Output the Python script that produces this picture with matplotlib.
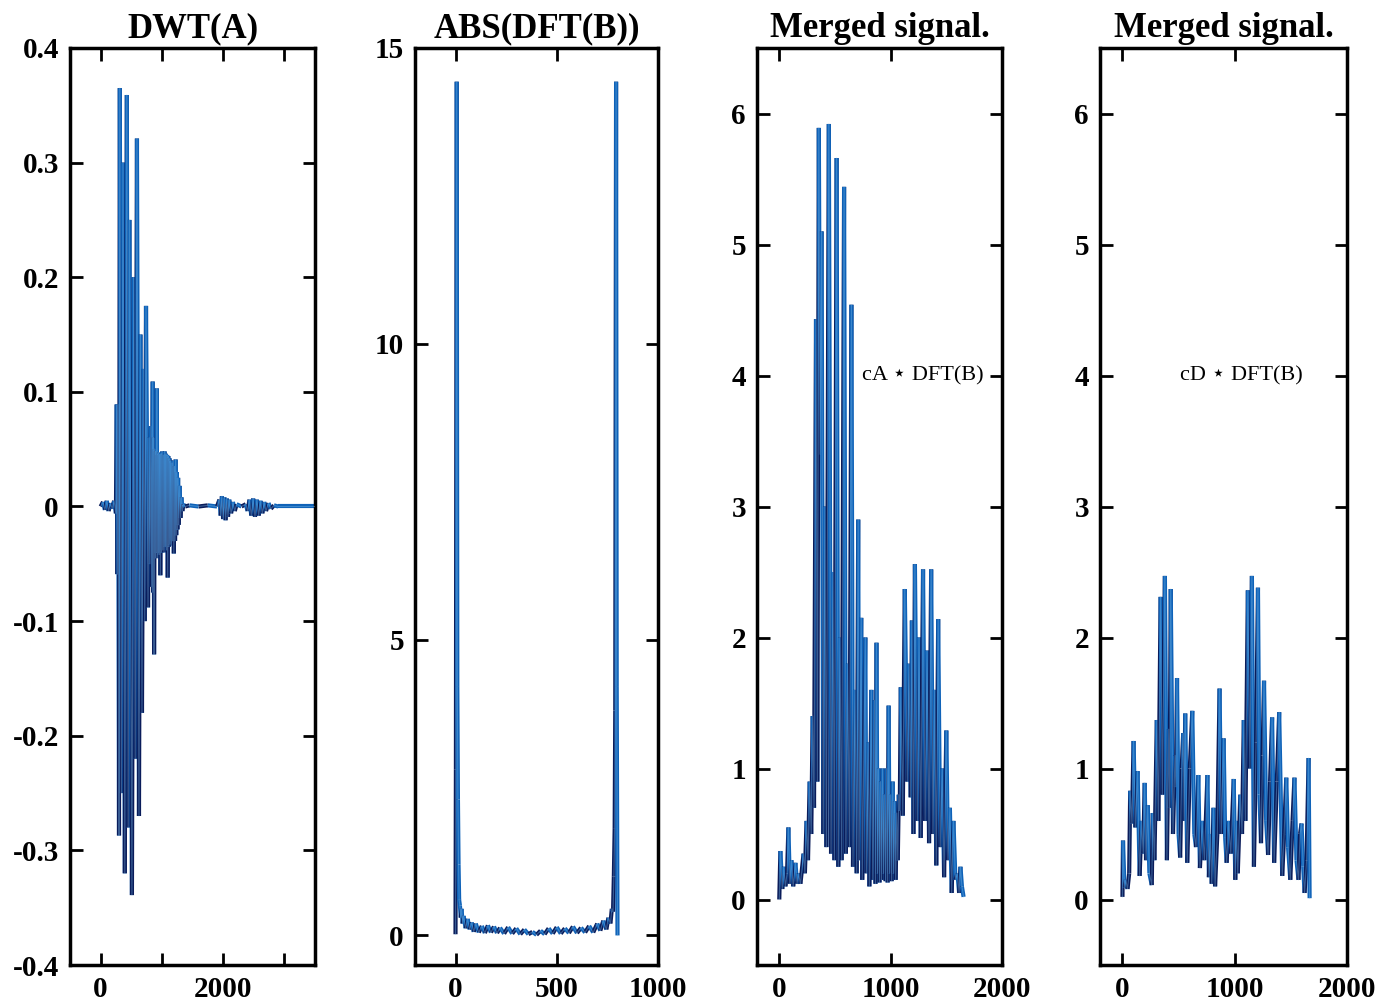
import numpy as np
import matplotlib
matplotlib.use("Agg")
import matplotlib.pyplot as plt
from matplotlib.collections import LineCollection
from matplotlib.ticker import FixedLocator, FixedFormatter

plt.rcParams['font.family'] = ['Liberation Serif', 'DejaVu Sans']
plt.rcParams['font.weight'] = 'bold'

# ---------------- data ----------------
titles = ["DWT(A)", "ABS(DFT(B))", "Merged signal.", "Merged signal."]
labels = ["", "", "cA \u22c6 DFT(B)", "cD \u22c6 DFT(B)"]

dwt_a = [(0, 0), (40, 0.004), (70, -0.003), (100, 0.005), (130, -0.004), (160, 0.003),
         (190, -0.002), (220, 0.005), (250, -0.006), (262, 0.089), (272, -0.059), (282, 0.089),
         (292, -0.059), (300, -0.287), (313, 0.365), (340, -0.25), (365, 0.30), (395, -0.320),
         (428, 0.359), (450, -0.28), (470, 0.25), (511, -0.339), (540, 0.20), (565, -0.22),
         (593, 0.321), (626, -0.270), (650, 0.15), (675, -0.18), (700, 0.12), (720, -0.10),
         (741, 0.175), (774, -0.088), (790, 0.06), (805, -0.05), (820, 0.07), (835, -0.07),
         (850, 0.109), (857, -0.075), (866, 0.06), (873, -0.129), (882, 0.05), (890, -0.045),
         (900, 0.048), (910, -0.04), (917, 0.103), (925, -0.045), (932, 0.045), (939, -0.04),
         (948, 0.047), (957, -0.042), (966, 0.045), (975, -0.06), (985, 0.046), (995, -0.04),
         (1005, 0.048), (1015, -0.038), (1025, 0.045), (1035, -0.04), (1045, 0.048), (1055, -0.035),
         (1065, 0.046), (1075, -0.038), (1085, 0.045), (1095, -0.062), (1105, 0.044), (1115, -0.035),
         (1125, 0.042), (1135, -0.033), (1145, 0.04), (1155, -0.034), (1165, 0.038), (1175, -0.03),
         (1186, 0.04), (1195, -0.041), (1205, 0.035), (1215, -0.03), (1225, 0.041), (1235, -0.025),
         (1245, 0.03), (1255, -0.02), (1265, 0.025), (1275, -0.016), (1290, 0.018), (1305, -0.01),
         (1320, 0.008), (1335, -0.004), (1350, 0.002), (1380, 0.0), (1450, 0.001), (1600, 0.0),
         (1750, 0.001), (1900, 0.0), (1940, 0.006), (1960, -0.008), (1980, 0.009), (2000, -0.011),
         (2020, 0.008), (2040, -0.012), (2060, 0.007), (2080, -0.009), (2100, 0.006), (2130, -0.006),
         (2160, 0.004), (2190, -0.004), (2220, 0.002), (2300, 0.0), (2370, 0.002), (2400, -0.004),
         (2430, 0.006), (2460, -0.008), (2490, 0.007), (2520, -0.009), (2550, 0.006), (2580, -0.008),
         (2610, 0.005), (2640, -0.006), (2670, 0.004), (2700, -0.004), (2740, 0.003), (2780, -0.002),
         (2830, 0.001), (2900, 0.0), (3100, 0.0), (3300, 0.0), (3500, 0.0)]

abs_dft_b = [(0, 0.02), (2, 2.8), (6, 14.43), (9, 4.2), (12, 2.3), (15, 1.2), (18, 0.6), (22, 0.5),
             (26, 0.3), (30, 0.45), (35, 0.2), (40, 0.33), (50, 0.12), (60, 0.28), (70, 0.1),
             (80, 0.22), (90, 0.06), (100, 0.2), (115, 0.05), (130, 0.16), (145, 0.04), (160, 0.17),
             (175, 0.05), (190, 0.15), (205, 0.04), (220, 0.13), (240, 0.03), (260, 0.14), (280, 0.03),
             (300, 0.12), (320, 0.02), (340, 0.1), (360, 0.02), (380, 0.06), (400, 0.01), (420, 0.08),
             (440, 0.02), (460, 0.12), (480, 0.03), (500, 0.14), (520, 0.03), (540, 0.12), (560, 0.04),
             (580, 0.15), (600, 0.04), (620, 0.13), (640, 0.05), (660, 0.16), (680, 0.05), (700, 0.2),
             (715, 0.08), (730, 0.25), (745, 0.1), (755, 0.3), (765, 0.2), (772, 0.45), (778, 0.4),
             (782, 1.0), (786, 1.8), (789, 3.8), (793, 14.43), (796, 4.2), (800, 0.0)]

merged_ca = [(0, 0.0), (10, 0.37), (27, 0.08), (40, 0.25), (55, 0.1), (70, 0.2), (82, 0.55),
             (95, 0.12), (109, 0.3), (125, 0.1), (145, 0.28), (160, 0.12), (173, 0.2), (190, 0.12),
             (218, 0.35), (230, 0.2), (245, 0.6), (258, 0.3), (273, 0.9), (287, 0.5), (300, 1.4),
             (312, 0.7), (330, 4.43), (342, 0.9), (355, 5.89), (367, 3.4), (380, 5.1), (395, 0.5),
             (410, 3.0), (423, 0.4), (445, 5.92), (465, 0.35), (482, 2.5), (495, 0.3), (515, 5.66),
             (530, 0.25), (545, 2.0), (560, 0.3), (582, 5.44), (598, 0.35), (614, 1.8), (630, 0.4),
             (648, 4.54), (662, 0.25), (680, 1.6), (695, 0.2), (709, 2.9), (716, 0.3), (736, 2.15),
             (745, 0.15), (773, 2.0), (782, 0.2), (800, 1.2), (809, 0.1), (827, 1.6), (840, 0.15),
             (855, 1.52), (864, 0.12), (873, 1.96), (882, 0.2), (891, 1.0), (900, 0.13), (909, 0.9),
             (918, 0.15), (927, 1.0), (936, 0.2), (945, 0.8), (955, 0.14), (964, 1.0), (973, 0.13),
             (982, 1.48), (991, 0.2), (1000, 0.8), (1009, 0.14), (1018, 0.9), (1027, 0.2), (1036, 0.75),
             (1045, 0.15), (1055, 0.66), (1064, 0.3), (1073, 0.8), (1082, 0.68), (1091, 1.62),
             (1109, 0.64), (1127, 2.37), (1150, 0.9), (1165, 1.8), (1180, 0.78), (1191, 2.13),
             (1205, 0.5), (1218, 2.56), (1240, 0.6), (1255, 2.0), (1270, 0.47), (1291, 2.52),
             (1310, 0.6), (1327, 1.9), (1345, 0.43), (1364, 2.52), (1380, 0.5), (1395, 1.6),
             (1410, 0.26), (1427, 2.14), (1445, 0.4), (1464, 1.0), (1480, 0.17), (1500, 1.29),
             (1515, 0.3), (1532, 0.7), (1548, 0.05), (1564, 0.6), (1582, 0.15), (1600, 0.2),
             (1615, 0.05), (1627, 0.25), (1640, 0.1), (1655, 0.02)]

merged_cd = [(0, 0.02), (5, 0.45), (18, 0.09), (30, 0.15), (45, 0.08), (60, 0.2), (69, 0.83),
             (85, 0.58), (99, 1.21), (115, 0.55), (135, 0.98), (153, 0.18), (170, 0.6), (185, 0.35),
             (198, 0.89), (210, 0.3), (225, 0.72), (240, 0.2), (261, 0.11), (270, 0.66), (285, 0.3),
             (306, 1.37), (320, 0.6), (340, 2.31), (355, 0.8), (378, 2.47), (396, 0.30), (412, 1.3),
             (420, 0.7), (430, 2.37), (450, 0.5), (468, 1.1), (476, 0.86), (486, 1.69), (500, 0.5),
             (514, 0.32), (528, 1.0), (541, 1.27), (550, 0.6), (559, 1.42), (577, 0.28), (600, 1.0),
             (622, 1.44), (640, 0.5), (655, 0.4), (676, 0.95), (690, 0.24), (710, 0.6), (730, 0.3),
             (757, 0.95), (770, 0.17), (784, 0.5), (795, 0.12), (811, 0.7), (825, 0.1), (845, 0.5),
             (865, 1.61), (880, 0.5), (901, 1.23), (915, 0.47), (928, 0.28), (945, 0.6), (965, 0.35),
             (991, 0.92), (1005, 0.15), (1015, 0.6), (1027, 0.2), (1050, 0.8), (1065, 0.5),
             (1081, 1.37), (1095, 0.6), (1117, 2.36), (1135, 1.0), (1153, 2.47), (1171, 0.25),
             (1190, 1.2), (1207, 2.38), (1220, 0.8), (1234, 0.43), (1248, 1.1), (1261, 1.67),
             (1280, 0.6), (1297, 0.34), (1315, 0.9), (1333, 1.39), (1351, 0.28), (1375, 0.9),
             (1396, 1.43), (1423, 0.18), (1440, 0.5), (1459, 0.93), (1475, 0.4), (1495, 0.15),
             (1515, 0.6), (1532, 0.93), (1550, 0.3), (1568, 0.15), (1582, 0.5), (1595, 0.58),
             (1610, 0.25), (1622, 0.05), (1640, 0.3), (1658, 1.08), (1667, 0.01)]

series = [dwt_a, abs_dft_b, merged_ca, merged_cd]

xlims = [(-500, 3500), (-200, 1000), (-200, 2000), (-200, 2000)]
ylims = [(-0.4, 0.4), (-0.5, 15), (-0.5, 6.5), (-0.5, 6.5)]
xticks = [[0, 1000, 2000, 3000], [0, 500, 1000], [0, 1000, 2000], [0, 1000, 2000]]
xticklabels = [["0", "", "2000", ""], ["0", "500", "1000"], ["0", "1000", "2000"], ["0", "1000", "2000"]]
yticks = [[0.4, 0.3, 0.2, 0.1, 0, -0.1, -0.2, -0.3, -0.4], [0, 5, 10, 15],
          [0, 1, 2, 3, 4, 5, 6], [0, 1, 2, 3, 4, 5, 6]]
yticklabels = [["0.4", "0.3", "0.2", "0.1", "0", "-0.1", "-0.2", "-0.3", "-0.4"],
               ["0", "5", "10", "15"],
               ["0", "1", "2", "3", "4", "5", "6"], ["0", "1", "2", "3", "4", "5", "6"]]
label_pos = [None, None, (745, 4.0), (513, 4.0)]

# ---------------- layout ----------------
W, H = 1392, 1006
fig = plt.figure(figsize=(W / 100, H / 100), dpi=100)
boxes = [(70, 315), (415, 658), (757, 1002), (1100, 1347)]
top_px, bot_px = 48, 965

DARK = '#0a1c5a'
MID = '#0f62b8'
LIGHT = '#7fbdea'

for i in range(4):
    l, r = boxes[i]
    ax = fig.add_axes([l / W, 1 - bot_px / H, (r - l) / W, (bot_px - top_px) / H])
    pts = np.array(series[i], dtype=float)
    x, y = pts[:, 0], pts[:, 1]
    segs = np.stack([np.column_stack([x[:-1], y[:-1]]), np.column_stack([x[1:], y[1:]])], axis=1)
    dy = np.diff(y)
    cols = [DARK if d > 0 else MID for d in dy]
    ax.add_collection(LineCollection(segs, colors=cols, linewidths=3.0, zorder=2,
                                     capstyle='butt', joinstyle='miter'))
    ax.plot(x, y, color=LIGHT, lw=0.8, zorder=3, alpha=0.4)
    ax.set_xlim(*xlims[i])
    ax.set_ylim(*ylims[i])
    ax.xaxis.set_major_locator(FixedLocator(xticks[i]))
    ax.xaxis.set_major_formatter(FixedFormatter(xticklabels[i]))
    ax.yaxis.set_major_locator(FixedLocator(yticks[i]))
    ax.yaxis.set_major_formatter(FixedFormatter(yticklabels[i]))
    ax.tick_params(direction='in', length=9, width=2, top=True, right=True,
                   labelsize=21, pad=8)
    for sp in ax.spines.values():
        sp.set_linewidth(2.5)
    ax.set_title(titles[i], fontsize=25, fontweight='bold', pad=8)
    if label_pos[i] is not None:
        ax.text(label_pos[i][0], label_pos[i][1], labels[i], fontsize=16,
                fontweight='normal', ha='left', va='center',
                family=['Liberation Serif', 'DejaVu Sans'])

fig.savefig("out.png", dpi=100)
